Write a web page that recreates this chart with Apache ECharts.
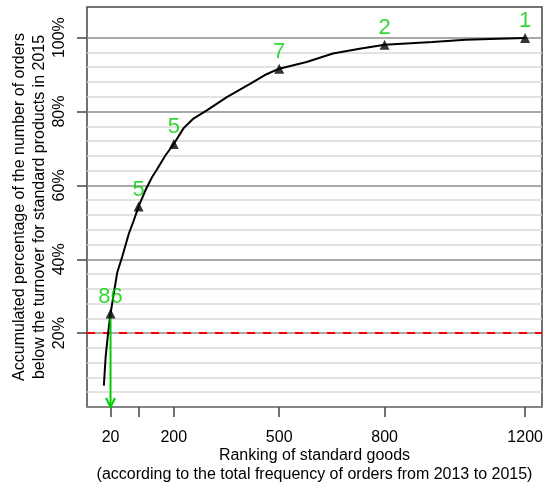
<!DOCTYPE html>
<html>
<head>
<meta charset="utf-8">
<script src="https://cdn.jsdelivr.net/npm/echarts@6/dist/echarts.min.js"></script>
<style>
  html, body { margin: 0; padding: 0; background: #fff; }
  #chart { width: 544px; height: 487px; }
</style>
</head>
<body>
<div id="chart"></div>
<script>
// cumulative curve
var rankX = [1, 6, 13, 20, 34, 39, 53, 72, 86, 100, 119, 138, 152, 176, 200, 228, 256, 294, 351, 417, 464, 500, 578, 653, 729, 800, 936, 1031, 1125, 1200];
var pctY = [5.8, 13.5, 20, 25.3, 33.5, 36.4, 40.6, 46.9, 50.5, 54.3, 58.6, 62.2, 64.3, 68.1, 71.2, 75.5, 78.1, 80.3, 83.9, 87.5, 90.1, 91.6, 93.4, 95.7, 97.0, 98.1, 98.8, 99.45, 99.7, 99.9];

// marked points and their green counts
var markX = [20, 100, 200, 500, 800, 1200];
var markY = [25.3, 54.3, 71.2, 91.6, 98.1, 99.9];
var markCount = ['86', '5', '5', '7', '2', '1'];

var xTicks = [20, 100, 200, 500, 800, 1200];
var xLabels = [20, 200, 500, 800, 1200];
var yLabels = [20, 40, 60, 80, 100];
var threshold = 20;

var font = 'Liberation Sans, Arial, sans-serif';
var green = '#00cd00';

// split line colours: every 4%, darker every 20%, nothing above 100%
var gridColors = [];
for (var i = 0; i <= 30; i++) {
  if (i > 25) gridColors.push('rgba(0,0,0,0)');
  else if (i % 5 === 0) gridColors.push('#8c8c8c');
  else gridColors.push('#d9d9d9');
}

var chart = echarts.init(document.getElementById('chart'), null, { renderer: 'canvas' });
chart.setOption({
  animation: false,
  backgroundColor: '#fff',
  grid: {
    left: 87, right: 2, top: 7, bottom: 80,
    outerBoundsMode: 'none',
    containLabel: false,
    show: true, borderColor: '#444', borderWidth: 1.5, backgroundColor: 'transparent'
  },
  xAxis: {
    type: 'value',
    min: -47, max: 1248,
    axisLine: { show: false },
    splitLine: { show: false },
    axisTick: { show: true, length: 10, customValues: xTicks, lineStyle: { color: '#444', width: 1.5 } },
    axisLabel: {
      customValues: xLabels, margin: 23, fontSize: 16, fontFamily: font, color: '#000',
      formatter: function (v) { return String(v); }
    },
    name: 'Ranking of standard goods\n(according to the total frequency of orders from 2013 to 2015)',
    nameLocation: 'middle',
    nameGap: 39,
    nameMoveOverlap: false,
    nameTextStyle: { fontSize: 16, fontFamily: font, color: '#000', lineHeight: 19 }
  },
  yAxis: [{
    type: 'value',
    position: 'left',
    min: 0, max: 108.3, interval: 4,
    axisLine: { show: false },
    axisTick: { show: false },
    axisLabel: { show: false },
    splitLine: { show: true, lineStyle: { color: gridColors, width: 1.5 } }
  }, {
    type: 'value',
    position: 'left',
    min: 0, max: 108.3, interval: 20,
    axisLine: { show: false },
    splitLine: { show: false },
    axisTick: { show: true, length: 10, customValues: yLabels, lineStyle: { color: '#444', width: 1.5 } },
    axisLabel: {
      customValues: yLabels, rotate: 90, margin: 19,
      fontSize: 16, fontFamily: font, color: '#000',
      formatter: function (v) { return v + '%'; }
    },
    name: 'Accumulated percentage of the number of orders\nbelow the turnover for standard products in 2015',
    nameLocation: 'middle',
    nameRotate: 90,
    nameGap: 37,
    nameMoveOverlap: false,
    nameTextStyle: { fontSize: 16, fontFamily: font, color: '#000', lineHeight: 20 }
  }],
  series: [{
    type: 'line',
    yAxisIndex: 1,
    data: rankX.map(function (x, k) { return [x, pctY[k]]; }),
    showSymbol: false,
    lineStyle: { color: '#000', width: 2 },
    z: 3,
    markLine: {
      silent: true,
      symbol: 'none',
      label: { show: false },
      lineStyle: { color: '#ff0000', type: [8, 8], width: 2 },
      data: [{ yAxis: threshold }],
      z: 2
    }
  }, {
    type: 'custom',
    yAxisIndex: 1,
    data: [[markX[0], markY[0]]],
    z: 4,
    renderItem: function (params, api) {
      var p0 = api.coord([api.value(0), api.value(1)]);
      var p1 = api.coord([api.value(0), 0]);
      var st = { stroke: green, lineWidth: 2, fill: null };
      return {
        type: 'group',
        children: [
          { type: 'line', shape: { x1: p0[0], y1: p0[1], x2: p1[0], y2: p1[1] }, style: st },
          { type: 'polyline', shape: { points: [[p1[0] - 4.5, p1[1] - 9], [p1[0], p1[1]], [p1[0] + 4.5, p1[1] - 9]] }, style: st }
        ]
      };
    }
  }, {
    type: 'scatter',
    yAxisIndex: 1,
    data: markX.map(function (x, k) { return [x, markY[k]]; }),
    symbol: 'triangle',
    symbolSize: 10,
    itemStyle: { color: '#000' },
    z: 5,
    label: {
      show: true,
      position: 'top',
      distance: 1,
      fontSize: 22,
      fontFamily: font,
      color: green,
      formatter: function (p) { return markCount[p.dataIndex]; }
    }
  }]
});

window.addEventListener('resize', function () { chart.resize(); });
</script>
</body>
</html>
